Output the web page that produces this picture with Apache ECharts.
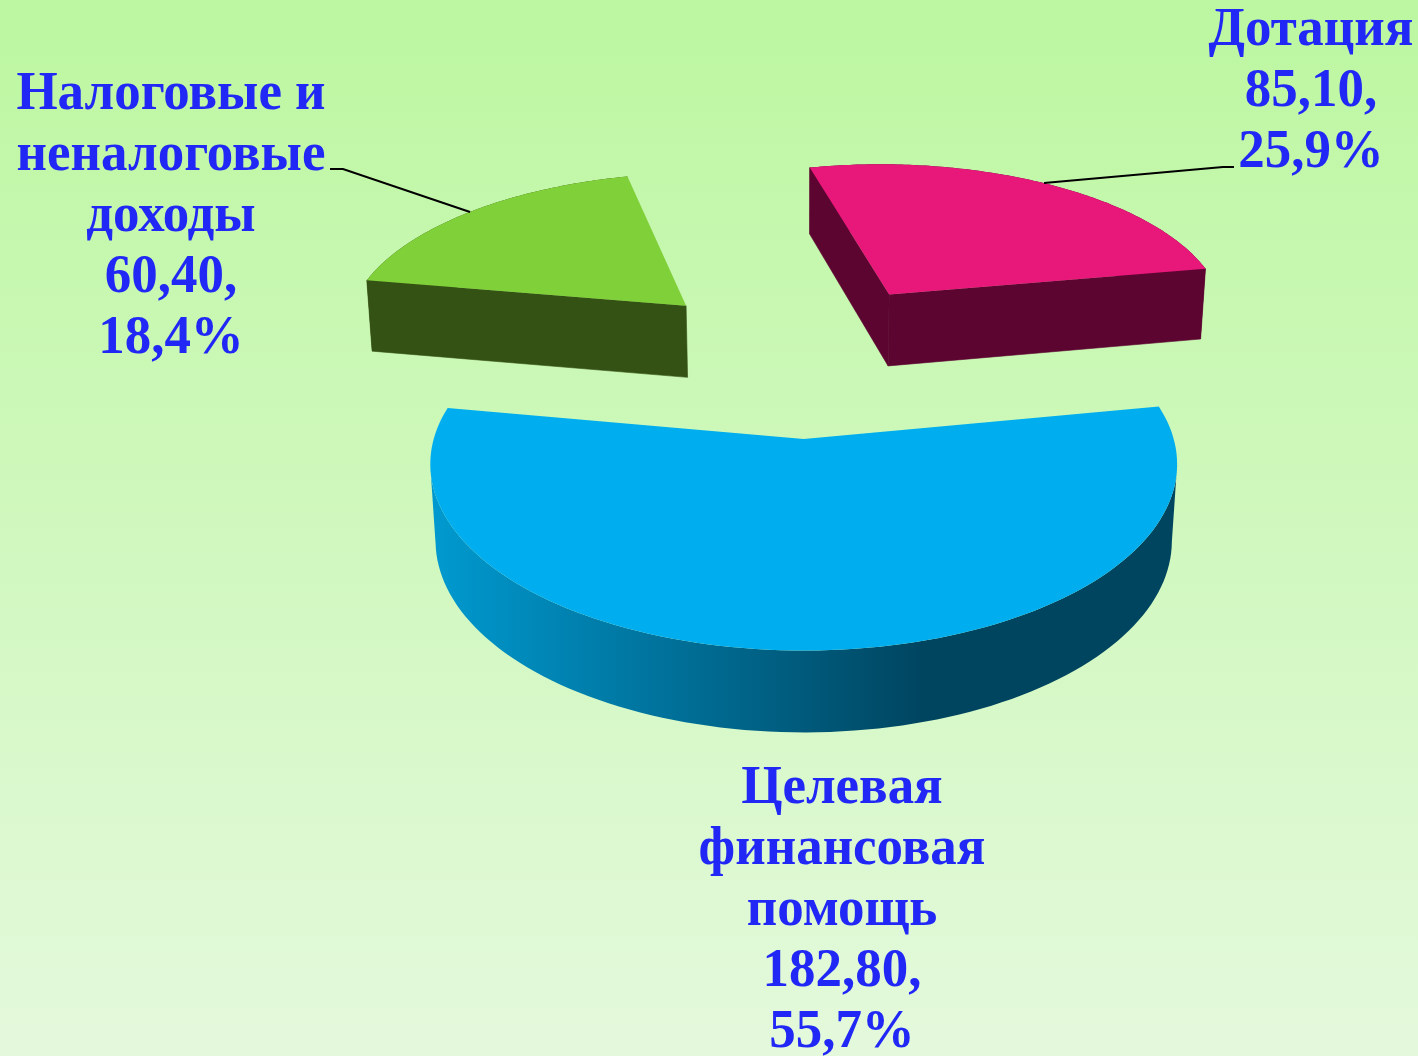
<!DOCTYPE html>
<html>
<head>
<meta charset="utf-8">
<style>html,body{margin:0;padding:0}#chart{width:1418px;height:1056px}</style>
<script src="https://cdn.jsdelivr.net/npm/echarts@6/dist/echarts.min.js"></script>
</head>
<body>
<div id="chart"></div>
<script>
// data, clockwise starting at the top left slice
var categories = ['Налоговые и\nненалоговые\nдоходы', 'Дотация', 'Целевая\nфинансовая\nпомощь'];
var values = [60.4, 85.1, 182.8];

var topColors = ['#80d03a', '#e8177a', '#00aeef'];
var wallColors = ['#355215', '#5c0530', null];
var labelCenters = [[171, 217], [1311, 92], [842, 911]];
var leaderLines = [
  [[330, 169], [343, 169], [470, 212]],
  [[1234, 167], [1223, 167], [1044, 183]],
  null
];

// projection of the pie plane (u, v, height), fitted to the picture
var cx = 803, cy = 439;
var scaleX = 370, scaleY = 183, tilt = 0.135;
var depthY = 78, depthWY = 0.0246, depthWX = 0.014;
var explode = 0.48;
var startAngle = 280;

var total = values.reduce(function (a, b) { return a + b; }, 0);

function project(u, v, down) {
  var w = 1 - tilt * v;
  return [
    cx + scaleX * u / (w + (down ? depthWX : 0)),
    cy + (scaleY * v + (down ? depthY : 0)) / (w + (down ? depthWY : 0))
  ];
}

// radial wall is seen only when the wedge lies above its top edge
function wallVisible(a, b, inside) {
  var ex = b[0] - a[0], ey = b[1] - a[1];
  var crossInside = ex * (inside[1] - a[1]) - ey * (inside[0] - a[0]);
  return crossInside * ex < 0;
}

function quad(a, b, c, d, fill) {
  return {
    type: 'polygon',
    shape: { points: [a, b, c, d] },
    style: { fill: fill, stroke: fill, lineWidth: 0.6 }
  };
}

function renderSlice(params, api) {
  var i = params.dataIndex;
  var value = api.value(0);
  var before = 0;
  for (var n = 0; n < i; n++) before += values[n];
  var a0 = startAngle + before / total * 360;
  var a1 = a0 + value / total * 360;
  var mid = (a0 + a1) / 2 * Math.PI / 180;
  // the plane's origin sits so that the front slice apex is at v = 0
  var ox = explode * Math.sin(mid);
  var oy = -explode * Math.cos(mid) - explode;

  var rimTop = [];
  var rimLow = [];
  var steps = 120;
  var left = 0, right = 0;
  for (var s = 0; s <= steps; s++) {
    var t = (a0 + (a1 - a0) * s / steps) * Math.PI / 180;
    var u = ox + Math.sin(t);
    var v = oy - Math.cos(t);
    rimTop.push(project(u, v, false));
    rimLow.push(project(u, v, true));
    if (rimTop[s][0] < rimTop[left][0]) left = s;
    if (rimTop[s][0] > rimTop[right][0]) right = s;
  }
  var apexTop = project(ox, oy, false);
  var apexLow = project(ox, oy, true);

  var wallFill = wallColors[i] || {
    type: 'linear', x: 0, y: 0, x2: 1, y2: 0,
    colorStops: [
      { offset: 0, color: '#009ad0' },
      { offset: 0.66, color: '#004560' },
      { offset: 1, color: '#004560' }
    ]
  };

  var children = [];
  var inside = rimTop[Math.round(steps / 2)];
  if (wallVisible(apexTop, rimTop[0], inside)) {
    children.push(quad(apexTop, rimTop[0], rimLow[0], apexLow, wallFill));
  }
  if (wallVisible(apexTop, rimTop[steps], inside)) {
    children.push(quad(apexTop, rimTop[steps], rimLow[steps], apexLow, wallFill));
  }
  // outer wall only between the widest rim points, past those the top face hides it
  var from = Math.min(left, right), to = Math.max(left, right);
  children.push({
    type: 'polygon',
    shape: { points: rimTop.slice(from, to + 1).concat(rimLow.slice(from, to + 1).reverse()) },
    style: { fill: wallFill }
  });
  children.push({
    type: 'polygon',
    shape: { points: [apexTop].concat(rimTop) },
    style: { fill: topColors[i] }
  });
  if (leaderLines[i]) {
    children.push({
      type: 'polyline',
      shape: { points: leaderLines[i] },
      style: { fill: null, stroke: '#000000', lineWidth: 2 }
    });
  }
  var label = categories[i] + '\n' + value.toFixed(2).replace('.', ',') + ',\n' +
    (value / total * 100).toFixed(1).replace('.', ',') + '%';
  children.push({
    type: 'text',
    x: labelCenters[i][0],
    y: labelCenters[i][1],
    scaleX: 0.98,
    style: {
      text: label,
      fill: '#2128f5',
      font: 'bold 54px "Liberation Serif"',
      lineHeight: 61,
      align: 'center',
      verticalAlign: 'middle'
    }
  });
  return { type: 'group', children: children };
}

var chart = echarts.init(document.getElementById('chart'));
chart.setOption({
  animation: false,
  backgroundColor: {
    type: 'linear', x: 0, y: 0, x2: 0, y2: 1,
    colorStops: [
      { offset: 0, color: '#bcf7a0' },
      { offset: 1, color: '#e4f9dc' }
    ]
  },
  series: [{
    type: 'custom',
    coordinateSystem: 'none',
    renderItem: renderSlice,
    data: values.map(function (v) { return [v]; })
  }]
});
</script>
</body>
</html>
